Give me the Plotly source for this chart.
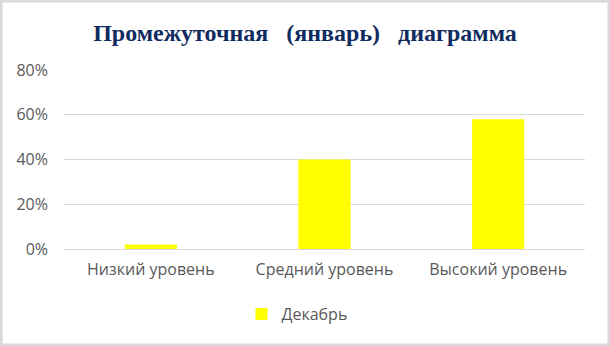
import plotly.graph_objects as go

categories = ["Низкий уровень", "Средний уровень", "Высокий уровень"]
december = [0.02, 0.40, 0.58]
series_name = "Декабрь"
title_text = "Промежуточная\u00a0\u00a0 (январь)\u00a0\u00a0 диаграмма"

W, H = 610, 346
L, R, T, B = 64, 25, 70, 97
pw, ph = W - L - R, H - T - B

def px(x):
    return (x - L) / pw

def py(y):
    return (H - B - y) / ph

fig = go.Figure()
fig.add_trace(go.Bar(
    x=categories, y=december, name=series_name,
    marker=dict(color="#ffff00", line=dict(width=0)),
))

tick_font = dict(family="Open Sans", size=16, color="#595959")

fig.update_layout(
    width=W, height=H,
    margin=dict(l=L, r=R, t=T, b=B),
    paper_bgcolor="#d9d9d9",
    plot_bgcolor="rgba(0,0,0,0)",
    bargap=0.7,
    showlegend=True,
    title=dict(
        text="<b>" + title_text + "</b>",
        x=0.5, xanchor="center", y=1 - 33 / H, yanchor="middle",
        font=dict(family="Liberation Serif", size=24, color="#102b5f"),
    ),
    legend=dict(
        orientation="h", x=px(297), xanchor="center", y=py(314), yanchor="middle",
        font=tick_font, bgcolor="rgba(0,0,0,0)",
        itemwidth=30,
    ),
    xaxis=dict(
        showgrid=False, showline=True, linecolor="#d9d9d9", linewidth=1,
        ticks="", tickfont=tick_font, ticklabelstandoff=6,
    ),
    yaxis=dict(
        range=[0, 0.8], dtick=0.2, tickformat=".0%",
        showgrid=True, gridcolor="#d9d9d9", gridwidth=1,
        zeroline=False, showline=False, ticks="", ticklabelstandoff=15,
        tickfont=tick_font,
    ),
    shapes=[dict(
        type="rect", xref="paper", yref="paper", layer="below",
        x0=px(2.5), x1=px(607.5), y0=py(343.5), y1=py(2.5),
        fillcolor="white", line=dict(width=0),
    )],
)

fig.write_html("out.html")
